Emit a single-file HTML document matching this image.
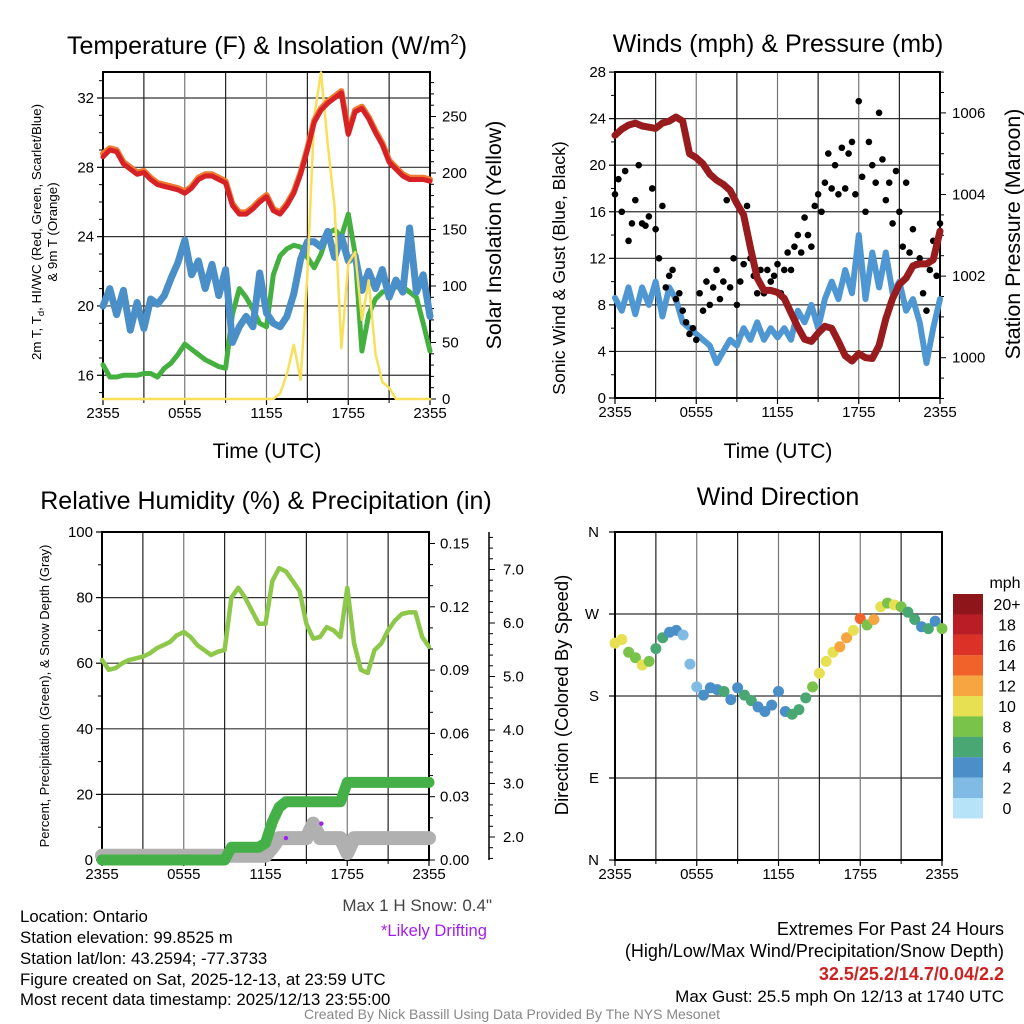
<!DOCTYPE html>
<html><head><meta charset="utf-8"><style>
html,body{margin:0;padding:0;background:#fff;}
svg{display:block;font-family:"Liberation Sans",Arial,sans-serif;}
</style></head><body>
<svg id="s" width="1024" height="1024" viewBox="0 0 1024 1024" xmlns="http://www.w3.org/2000/svg">
<rect width="1024" height="1024" fill="#fff"/>
<text x="267" y="54" font-size="25" text-anchor="middle">Temperature (F) &amp; Insolation (W/m<tspan font-size="15" dy="-10">2</tspan><tspan dy="10">)</tspan></text>
<text x="778" y="52" font-size="25" text-anchor="middle">Winds (mph) &amp; Pressure (mb)</text>
<text x="266" y="509" font-size="25" text-anchor="middle">Relative Humidity (%) &amp; Precipitation (in)</text>
<text x="778" y="505" font-size="25" text-anchor="middle">Wind Direction</text>

<text x="267" y="458" font-size="21" text-anchor="middle">Time (UTC)</text>
<text x="778" y="458" font-size="21" text-anchor="middle">Time (UTC)</text>

<text transform="translate(41,232) rotate(-90)" font-size="13.3" text-anchor="middle">2m T, T<tspan font-size="9.5" dy="3">d</tspan><tspan dy="-3">, HI/WC (Red, Green, Scarlet/Blue)</tspan></text>
<text transform="translate(57,232) rotate(-90)" font-size="13.3" text-anchor="middle">&amp; 9m T (Orange)</text>
<text transform="translate(501,235) rotate(-90)" font-size="21.4" text-anchor="middle">Solar Insolation (Yellow)</text>
<text transform="translate(565,268) rotate(-90)" font-size="17.7" text-anchor="middle">Sonic Wind &amp; Gust (Blue, Black)</text>
<text transform="translate(1020,234) rotate(-90)" font-size="21.4" text-anchor="middle">Station Pressure (Maroon)</text>
<text transform="translate(49,696) rotate(-90)" font-size="13" text-anchor="middle">Percent, Precipitation (Green), &amp; Snow Depth (Gray)</text>
<text transform="translate(568,695) rotate(-90)" font-size="18.5" text-anchor="middle">Direction (Colored By Speed)</text>

<g font-size="16.8">
<text x="20" y="922">Location: Ontario</text>
<text x="20" y="943">Station elevation: 99.8525 m</text>
<text x="20" y="964">Station lat/lon: 43.2594; -77.3733</text>
<text x="20" y="985">Figure created on Sat, 2025-12-13, at 23:59 UTC</text>
<text x="20" y="1005">Most recent data timestamp: 2025/12/13 23:55:00</text>
</g>
<text x="492" y="911" font-size="17" fill="#444" text-anchor="end">Max 1 H Snow: 0.4"</text>
<text x="487" y="936" font-size="16.6" fill="#a020f0" text-anchor="end">*Likely Drifting</text>
<g font-size="18" text-anchor="end">
<text x="1004" y="935">Extremes For Past 24 Hours</text>
<text x="1004" y="957">(High/Low/Max Wind/Precipitation/Snow Depth)</text>
<text x="1004" y="980" font-weight="bold" fill="#cc2222">32.5/25.2/14.7/0.04/2.2</text>
<text x="1004" y="1002" font-size="17">Max Gust: 25.5 mph On 12/13 at 1740 UTC</text>
</g>
<text x="512" y="1019" font-size="14" fill="#888" text-anchor="middle">Created By Nick Bassill Using Data Provided By The NYS Mesonet</text>
<g id="g"></g>
</svg>
<script>
// ===== DATA (half-hour steps from 2355 UTC) =====
const xTickLabels = ["2355","0555","1155","1755","2355"];
const tempTicks = [16,20,24,28,32];
const solarTicks = [0,50,100,150,200,250];
const temp2m = [28.6,29.0,28.9,28.2,27.9,27.6,27.7,27.3,27.0,26.9,26.8,26.7,26.5,26.8,27.3,27.5,27.5,27.3,27.1,25.8,25.3,25.3,25.6,26.0,26.3,25.5,25.3,25.8,26.5,27.6,29.0,30.6,31.3,31.7,32.0,32.3,29.9,31.2,31.4,30.8,30.0,29.3,28.3,27.9,27.5,27.3,27.3,27.3,27.2];
const temp9m = [28.8,29.1,29.0,28.3,28.0,27.7,27.8,27.4,27.1,27.0,26.9,26.8,26.6,26.9,27.4,27.6,27.6,27.4,27.2,25.9,25.4,25.4,25.7,26.1,26.4,25.6,25.4,25.9,26.6,27.7,29.1,30.7,31.4,31.8,32.1,32.4,30.0,31.3,31.5,30.9,30.1,29.4,28.4,28.0,27.6,27.4,27.4,27.4,27.3];
const dewpoint = [16.6,15.9,15.9,16.0,16.0,16.0,16.1,16.1,15.9,16.4,16.7,17.2,17.8,17.5,17.2,16.9,16.7,16.5,16.4,19.5,21.0,20.5,19.8,19.0,18.8,21.8,22.9,23.3,23.5,23.4,22.8,22.2,23.0,24.2,24.4,24.0,25.3,23.0,17.4,19.5,20.4,20.8,20.9,21.1,21.1,20.8,20.5,19.0,17.4];
const windChill = [20.0,21.0,19.5,20.9,18.6,20.2,18.7,20.4,20.1,20.6,21.6,22.5,23.8,21.8,22.6,21.0,22.4,20.6,22.1,17.9,18.8,19.4,18.8,21.9,19.6,19.0,18.8,19.4,20.7,22.7,23.7,23.7,23.4,24.3,22.8,24.0,22.6,22.9,20.9,22.0,21.0,22.1,20.5,21.5,20.8,24.5,20.8,21.8,19.4];
const solar = [0,0,0,0,0,0,0,0,0,0,0,0,0,0,0,0,0,0,0,0,0,0,0,0,0,0,5,22,48,17,110,250,289,225,170,45,120,130,70,105,40,15,10,0,0,0,0,0,0];
const windTicks = [0,4,8,12,16,20,24,28];
const pressTicks = [1000,1002,1004,1006];
const windSpeed = [8.6,7.5,9.5,7.2,9.5,8.0,10.0,7.0,9.5,8.5,6.5,6.0,5.5,5.0,4.5,3.0,4.0,5.0,4.5,6.0,5.0,6.5,5.0,6.0,5.2,6.0,5.0,7.5,6.5,8.0,6.0,8.5,10.0,8.5,11.0,9.0,14.0,8.5,12.5,9.5,12.5,9.0,10.0,7.5,8.5,6.5,3.0,6.0,8.5];
const pressure = [1005.45,1005.6,1005.7,1005.75,1005.68,1005.65,1005.62,1005.75,1005.8,1005.9,1005.8,1005.0,1004.9,1004.75,1004.5,1004.35,1004.25,1004.1,1003.78,1003.5,1002.7,1001.95,1001.65,1001.65,1001.6,1001.45,1001.1,1000.75,1000.45,1000.4,1000.6,1000.77,1000.72,1000.4,1000.05,999.92,1000.1,1000.0,999.98,1000.3,1000.95,1001.45,1001.8,1001.95,1002.25,1002.3,1002.3,1002.4,1003.1];
// gusts: quarter-hour steps
const gusts = [17.5,18.8,16.0,19.5,13.5,15.0,17.0,20.0,15.0,14.8,15.6,18.0,14.5,12.0,16.5,9.5,
10.5,11.0,8.5,9.0,7.5,6.5,5.5,6.0, 5.0,9.0,7.5,10.0,8.0,9.5,11.0,8.5, 10.0,17.0,9.5,12.0,8.0,10.0,11.5,16.5,
12.0,10.5,9.0,11.0,9.0,11.0,10.0,10.5, 11.5,9.0,11.0,12.5,11.0,13.0,14.0,12.5, 15.5,14.0,13.0,16.5,17.5,16.0,18.5,21.0,
18.0,20.0,17.5,21.5,18.0,21.0,22.0,17.5, 25.5,19.0,16.0,22.0,20.0,18.5,24.5,20.5, 17.0,18.5,15.0,19.5,16.0,13.0,18.5,12.5,
14.5,11.5,12.0,9.0,7.5,11.0,13.5,10.5, 15.0];
const rhTicks = [0,20,40,60,80,100];
const precipTicks = ["0.00","0.03","0.06","0.09","0.12","0.15"];
const snowTicks = ["2.0","3.0","4.0","5.0","6.0","7.0"];
const rh = [61,58,58.5,60,61,61.5,62,63,64.5,65.5,66.5,68.5,69.5,68,65.5,64,62.5,63.5,64,80,83,80,76,72,72,85,89,88,85,82,72,67.5,68,71,70,68,83,66,58,57,64,66,70,73,75,75.5,75.5,68,65];
const precip = [0,0,0,0,0,0,0,0,0,0,0,0,0,0,0,0,0,0,0,0.006,0.006,0.006,0.006,0.006,0.008,0.018,0.025,0.0276,0.0276,0.0276,0.0276,0.0276,0.0276,0.0276,0.0276,0.0276,0.0368,0.0368,0.0368,0.0368,0.0368,0.0368,0.0368,0.0368,0.0368,0.0368,0.0368,0.0368,0.0368];
const snow = [1.65,1.65,1.65,1.65,1.65,1.65,1.65,1.65,1.65,1.65,1.65,1.65,1.65,1.65,1.65,1.65,1.65,1.65,1.65,1.65,1.65,1.65,1.65,1.65,1.65,1.8,1.98,1.98,1.98,1.98,1.98,2.25,1.98,1.98,1.98,1.98,1.7,1.98,1.98,1.98,1.98,1.98,1.98,1.98,1.98,1.98,1.98,1.98,1.98];
const driftTimes = [13.5,16.1];
const driftSnow = [1.98,2.25];
const dirLabels = ["N","E","S","W","N"];
const direction = [238,242,228,222,214,218,232,244,250,252,247,215,190,181,189,187,185,176,189,181,175,168,163,170,185,163,160,165,178,190,205,218,228,234,244,252,265,258,264,278,282,280,278,272,264,256,254,262,254];
const dirSpeed = [10,10,9,8,10,8,7,6,5,5,3,3,2.5,4.5,4.5,5,6.5,5,4.5,6.5,6.5,5,5.5,4.5,5,4.5,6,7,7,9,10,10,11,13,12,10,14.5,8,12,10,8,10,8,6,7,5,6,4,8];
const cbLabels = ["20+","18","16","14","12","10","8","6","4","2","0"];
const cbColors = ["#8e161b","#bb1d26","#dc3127","#f0622a","#f7a541","#e6e052","#7ac34b","#48a773","#4a8fc7","#7fbbe4","#b7e3f8"];

// ===== helpers =====
const NS="http://www.w3.org/2000/svg";
const G=document.getElementById('g');
function mk(tag,attrs,parent){const e=document.createElementNS(NS,tag);for(const k in attrs)e.setAttribute(k,attrs[k]);(parent||G).appendChild(e);return e;}
function txt(x,y,s,anchor,size,name){const e=mk('text',{x:x,y:y,'font-size':size||15,'text-anchor':anchor||'middle'});e.textContent=s;


return e;}
function line(x1,y1,x2,y2,stroke,w,name){const e=mk('line',{x1:x1,y1:y1,x2:x2,y2:y2,stroke:stroke,'stroke-width':w||1});


return e;}
function poly(vals,xf,yf,dt,color,w,name){let d='';vals.forEach((v,i)=>{d+=(i?'L':'M')+xf(i*dt).toFixed(1)+','+yf(v).toFixed(1);});
const e=mk('path',{d:d,fill:'none',stroke:color,'stroke-width':w,'stroke-linejoin':'round','stroke-linecap':'round'});


return e;}

function panelFrame(L,R,T,B,name){
  const hx=t=>L+t*(R-L)/24;
  for(let h=3;h<24;h+=3){line(hx(h),T,hx(h),B,(h%6==0)?'#777':'#222',1.2,name+'-vgrid');}
  xTickLabels.forEach((s,i)=>{const x=hx(i*6);line(x,B,x,B+6,'#000',1.2,name+'-xtick');txt(x,B+19,s,'middle',15,name+'-xtick-label');});
  for(let h=3;h<24;h+=6){line(hx(h),B,hx(h),B+4,'#000',1,name+'-xminor');}
  const r=mk('rect',{x:L,y:T,width:R-L,height:B-T,fill:'none',stroke:'#000','stroke-width':2});
  
  
  return hx;
}

// ===== Panel 1: temperature =====
(function(){
  const L=103,R=430,T=72,B=399;
  const yT=v=>98+(32-v)*17.33;
  const yS=v=>399-v*1.13;
  tempTicks.forEach(v=>{line(L,yT(v),R,yT(v),'#333',1.2,'temp-hgrid');line(L-6,yT(v),L,yT(v),'#000',1.2,'temp-tick');txt(L-9,yT(v)+5,String(v),'end',15,'temp-tick-label');});
  for(let v=15;v<=33;v++){if(v%4)line(L-4,yT(v),L,yT(v),'#000',1,'temp-minor-tick');}
  for(let v=0;v<=280;v+=10){line(R,yS(v),R+(v%50?4:6),yS(v),'#000',1,'solar-tick');}
  solarTicks.forEach(v=>txt(R+12,yS(v)+5,String(v),'start',15,'solar-tick-label'));
  const hx=panelFrame(L,R,T,B,'temp');
  poly(dewpoint,hx,yT,0.5,'#44b03f',5,'dewpoint-line');
  poly(windChill,hx,yT,0.5,'#4a8fc7',7,'wind-chill-line');
  poly(solar,hx,yS,0.5,'#f8e05a',2.5,'solar-line');
  poly(temp9m,hx,yT,0.5,'#f07a30',6,'temp-9m-line');
  poly(temp2m,hx,yT,0.5,'#d62226',5,'temp-2m-line');
})();

// ===== Panel 2: winds & pressure =====
(function(){
  const L=615,R=940,T=72,B=398;
  const yW=v=>398-v*11.64;
  const yP=v=>357.7-(v-1000)*40.8;
  windTicks.forEach(v=>{line(L,yW(v),R,yW(v),'#333',1.2,'wind-hgrid');line(L-6,yW(v),L,yW(v),'#000',1.2,'wind-tick');txt(L-9,yW(v)+5,String(v),'end',15,'wind-tick-label');});
  for(let v=2;v<28;v+=4){line(L-4,yW(v),L,yW(v),'#000',1,'wind-minor-tick');}
  for(let v=999;v<=1007;v+=0.5){line(R,yP(v),R+(v%2===0?6:4),yP(v),'#000',1,'pressure-tick');}
  pressTicks.forEach(v=>txt(R+12,yP(v)+5,String(v),'start',15,'pressure-tick-label'));
  const hx=panelFrame(L,R,T,B,'wind');
  poly(windSpeed,hx,yW,0.5,'#4f97d2',6,'sustained-wind-line');
  gusts.forEach((v,i)=>{const c=mk('circle',{cx:hx(i*0.25),cy:yW(v),r:3.3,fill:'#000'});
    
    });
  poly(pressure,hx,yP,0.5,'#981b1e',7,'pressure-line');
})();

// ===== Panel 3: RH & precip =====
(function(){
  const L=102,R=429,T=532,B=860;
  const yR=v=>860-v*3.28;
  const yPr=v=>860-v*2110;
  const yS=v=>837-(v-2)*53.5;
  rhTicks.forEach(v=>{if(v>0&&v<100)line(L,yR(v),R,yR(v),'#333',1.2,'rh-hgrid');line(L-6,yR(v),L,yR(v),'#000',1.2,'rh-tick');txt(L-9,yR(v)+5,String(v),'end',15,'rh-tick-label');});
  for(let v=10;v<100;v+=20)line(L-4,yR(v),L,yR(v),'#000',1,'rh-minor-tick');
  for(let k=0;k<=15;k++){const v=k*0.01;line(R,yPr(v),R+(k%3?4:6),yPr(v),'#000',1,'precip-tick');}
  precipTicks.forEach(s=>txt(R+11,yPr(parseFloat(s))+5,s,'start',15,'precip-tick-label'));
  line(489,532,489,860,'#000',1.5,'snow-axis');
  for(let v=1.6;v<=7.7;v+=0.2){const mj=Math.abs(v-Math.round(v))<0.01;line(489,yS(v),489+(mj?6:4),yS(v),'#000',1,'snow-tick');}
  snowTicks.forEach(s=>txt(503,yS(parseFloat(s))+5,s,'start',15,'snow-tick-label'));
  const hx=panelFrame(L,R,T,B,'rh');
  poly(snow,hx,yS,0.5,'#b0b0b0',14,'snow-depth-line');
  poly(precip,hx,yPr,0.5,'#45b048',11,'precip-line');
  poly(rh,hx,yR,0.5,'#8ec84a',4.5,'rh-line');
  driftTimes.forEach((t,i)=>{const c=mk('circle',{cx:hx(t),cy:yS(driftSnow[i]),r:2.2,fill:'#a020f0'});
    
    });
})();

// ===== Panel 4: wind direction =====
(function(){
  const L=615,R=942,T=532,B=860;
  const yD=v=>860-v*328/360;
  dirLabels.forEach((s,i)=>{const v=i*90;if(i>0&&i<4)line(L,yD(v),R,yD(v),'#333',1.2,'dir-hgrid');line(L-6,yD(v),L,yD(v),'#000',1.2,'dir-tick');txt(L-16,yD(v)+5,s,'end',15,'dir-tick-label');});
  const hx=panelFrame(L,R,T,B,'dir');
  const col=s=>{let k=Math.min(10,Math.floor(s/2));return cbColors[10-k];};
  direction.forEach((v,i)=>{const c=mk('circle',{cx:hx(i*0.5),cy:yD(v),r:5.5,fill:col(dirSpeed[i])});
    
    });
  txt(1005,588,'mph','middle',16,'colorbar-title');
  cbColors.forEach((c,i)=>{const r=mk('rect',{x:953,y:594+i*20.4,width:30,height:20.5,fill:c});
    
    
    txt(1007,594+i*20.4+16,cbLabels[i],'middle',16,'colorbar-label');});
})();
</script>
</body></html>
